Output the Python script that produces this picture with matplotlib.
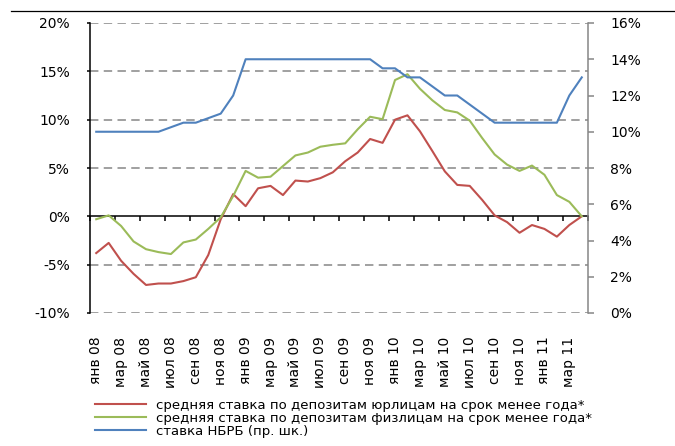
import matplotlib
matplotlib.use("Agg")
import matplotlib.pyplot as plt
from matplotlib.lines import Line2D
import numpy as np

plt.rcParams["font.family"] = ["DejaVu Sans"]
plt.rcParams["font.size"] = 10

# monthly data, Jan 2008 .. Apr 2011
month_names = ["янв", "фев", "мар", "апр", "май", "июн",
               "июл", "авг", "сен", "окт", "ноя", "дек"]
years = ["08", "09", "10", "11"]
n_months = 40

legal_rate = [-3.8, -2.75, -4.6, -5.95, -7.1, -6.95, -6.95, -6.7, -6.3, -4.0,
              -0.3, 2.3, 1.05, 2.9, 3.15, 2.2, 3.7, 3.6, 3.95, 4.55,
              5.7, 6.6, 8.0, 7.6, 10.0, 10.45, 8.8, 6.75, 4.65, 3.25,
              3.15, 1.7, 0.1, -0.6, -1.7, -0.9, -1.3, -2.1, -0.9, 0.0]
personal_rate = [-0.3, 0.1, -1.0, -2.6, -3.4, -3.7, -3.9, -2.7, -2.4, -1.3,
                 -0.1, 2.1, 4.7, 4.0, 4.1, 5.2, 6.3, 6.6, 7.2, 7.4,
                 7.55, 9.0, 10.3, 10.05, 14.1, 14.7, 13.2, 12.0, 11.0, 10.75,
                 9.9, 8.1, 6.4, 5.35, 4.7, 5.25, 4.3, 2.2, 1.5, 0.0]
nbrb_rate = [10, 10, 10, 10, 10, 10, 10.25, 10.5, 10.5, 10.75,
             11, 12, 14, 14, 14, 14, 14, 14, 14, 14,
             14, 14, 14, 13.5, 13.5, 13, 13, 12.5, 12, 12,
             11.5, 11, 10.5, 10.5, 10.5, 10.5, 10.5, 10.5, 12, 13]

left_ticks = [-10, -5, 0, 5, 10, 15, 20]
right_ticks = [0, 2, 4, 6, 8, 10, 12, 14, 16]

series_names = [
    "средняя ставка по депозитам юрлицам на срок менее года*",
    "средняя ставка по депозитам физлицам на срок менее года*",
    "ставка НБРБ (пр. шк.)",
]
colors = ["#C0504D", "#9BBB59", "#4F81BD"]

labels = [f"{month_names[i % 12]} {years[i // 12]}" for i in range(n_months)]
x = np.arange(n_months)

fig = plt.figure(figsize=(6.75, 4.46), dpi=100)
ax = fig.add_axes([90 / 675, 1 - 313 / 446, 498 / 675, 290 / 446])
grid_kw = dict(color="#868686", lw=1.1, linestyle=(0, (5.5, 3.5)), zorder=1)

ax.set_xlim(-0.5, n_months - 0.5)
ax.set_ylim(-10, 20)
ax.set_yticks(left_ticks, [f"{v}%" for v in left_ticks])
for v in left_ticks:
    if v != 0:
        ax.axhline(v, **grid_kw)

ax.spines["top"].set_visible(False)
ax.spines["right"].set_visible(False)
ax.spines["left"].set_linewidth(1.1)
ax.spines["bottom"].set_position(("data", 0))
ax.spines["bottom"].set_linewidth(1.1)
ax.spines["bottom"].set_zorder(2)
ax.set_xticks(np.arange(-0.5, n_months, 2))
ax.tick_params(axis="x", direction="out", length=3.5, width=1.1,
               labelbottom=False)
ax.tick_params(axis="y", direction="out", length=2.5, width=1.1, pad=12)

ax.plot(x, legal_rate, color=colors[0], lw=1.5, zorder=3)
ax.plot(x, personal_rate, color=colors[1], lw=1.5, zorder=3)

# category labels below the plot area
sec = ax.secondary_xaxis("bottom")
sec.set_xticks(x[::2], labels[::2], rotation=90)
sec.tick_params(length=0, pad=17)
sec.spines["bottom"].set_visible(False)

ax2 = ax.twinx()
ax2.set_ylim(0, 16)
ax2.set_yticks(right_ticks, [f"{v}%" for v in right_ticks])
for s in ["top", "left", "bottom"]:
    ax2.spines[s].set_visible(False)
ax2.spines["right"].set_color("#868686")
ax2.spines["right"].set_linewidth(1.1)
ax2.tick_params(axis="y", direction="out", length=4, width=1.1,
                color="#868686", pad=12)
ax2.plot(x, nbrb_rate, color=colors[2], lw=1.5, zorder=3)

handles = [Line2D([], [], color=c, lw=1.5) for c in colors]
fig.legend(handles, series_names, loc="upper left",
           bbox_to_anchor=(95 / 675, 1 - 399 / 446), frameon=False,
           fontsize=9.5, handlelength=3.9, handletextpad=0.7,
           labelspacing=0.0, borderpad=0, borderaxespad=0)

# top rule of the page
fig.add_artist(Line2D([11 / 675, 1], [1 - 11 / 446] * 2, color="black",
                      lw=0.9))

fig.savefig("out.png", dpi=100)
